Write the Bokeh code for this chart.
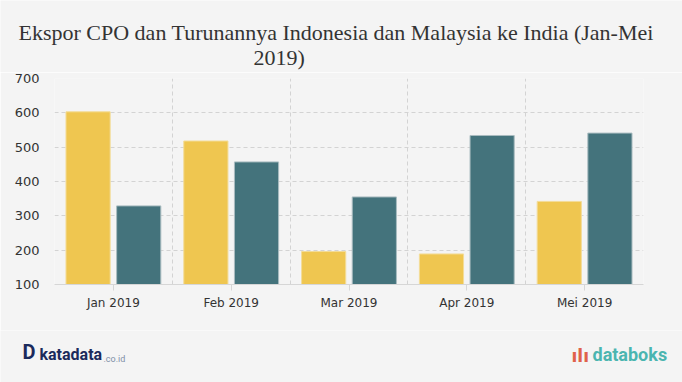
from bokeh.plotting import figure
from bokeh.layouts import column
from bokeh.models import FactorRange, Range1d, FixedTicker, Label, ColumnDataSource
from bokeh.transform import dodge
from bokeh.embed import file_html
from bokeh.resources import INLINE

months = ["Jan 2019", "Feb 2019", "Mar 2019", "Apr 2019", "Mei 2019"]
indonesia = [603, 518, 196, 189, 342]
malaysia = [329, 457, 355, 534, 541]
y_ticks = [100, 200, 300, 400, 500, 600, 700]
title_line1 = "Ekspor CPO dan Turunannya Indonesia dan Malaysia ke India (Jan-Mei"
title_line2 = "2019)"

BG = "#f4f4f4"
YELLOW = "#efc650"
TEAL = "#44737c"
GRID = "#d3d3d3"
W = 682


def blank_fig(h):
    f = figure(width=W, height=h, x_range=Range1d(0, W), y_range=Range1d(h, 0),
               title=None, output_backend="svg", toolbar_location=None,
               x_axis_location=None, y_axis_location=None,
               min_border=0, min_border_left=0, min_border_right=0,
               min_border_top=0, min_border_bottom=0,
               background_fill_color=BG, border_fill_color=BG,
               outline_line_color=None, frame_align=False)
    f.grid.visible = False
    return f


# ---- header with title ----
header = blank_fig(72)
header.add_layout(Label(x=18, y=32, text=title_line1, text_align="left",
                        text_baseline="alphabetic", text_font="Liberation Serif",
                        text_font_size="22px", text_color="#333333"))
header.add_layout(Label(x=253, y=57, text=title_line2, text_align="left",
                        text_baseline="alphabetic", text_font="Liberation Serif",
                        text_font_size="22px", text_color="#333333"))

# ---- main chart ----
src = ColumnDataSource(dict(month=months, indonesia=indonesia, malaysia=malaysia))

p = figure(
    x_range=FactorRange(factors=months, range_padding=0),
    y_range=Range1d(100, 700),
    width=W, height=258, title=None,
    output_backend="svg", toolbar_location=None,
    min_border_left=54, min_border_right=39, min_border_top=6, min_border_bottom=46,
    background_fill_color=BG, border_fill_color=BG, outline_line_color=None,
    frame_align=False,
)

p.vbar(x=dodge("month", -0.215, range=p.x_range), top="indonesia", bottom=100, width=0.375,
       source=src, fill_color=YELLOW, line_color="#f3dc98", line_width=1)
p.vbar(x=dodge("month", 0.215, range=p.x_range), top="malaysia", bottom=100, width=0.375,
       source=src, fill_color=TEAL, line_color="#a9bcc0", line_width=1)

p.xgrid.ticker = FixedTicker(ticks=[0, 1, 2, 3, 4, 5])
p.ygrid.ticker = FixedTicker(ticks=y_ticks)
for g in (p.xgrid, p.ygrid):
    g.grid_line_color = GRID
    g.grid_line_dash = "4 3"
    g.grid_line_width = 1

p.yaxis.ticker = FixedTicker(ticks=y_ticks)
p.yaxis.axis_line_color = None
p.yaxis.major_tick_line_color = None
p.yaxis.minor_tick_line_color = None
p.yaxis.major_tick_out = 0
p.yaxis.major_tick_in = 0
p.yaxis.major_label_standoff = 15
p.yaxis.major_label_text_font = "DejaVu Sans"
p.yaxis.major_label_text_font_size = "13px"
p.yaxis.major_label_text_color = "#333333"

p.xaxis.axis_line_color = "#d6d6d6"
p.xaxis.major_tick_line_color = "#d6d6d6"
p.xaxis.major_tick_out = 6
p.xaxis.major_tick_in = 0
p.xaxis.major_label_standoff = 5
p.xaxis.major_label_text_font = "DejaVu Sans"
p.xaxis.major_label_text_font_size = "12px"
p.xaxis.major_label_text_color = "#333333"

# ---- footer with logos ----
footer = blank_fig(52)
footer.add_layout(Label(x=22, y=33, text="D", text_font="Roboto", text_font_style="bold",
                        text_font_size="20px", text_color="#1b2a5c"))
footer.add_layout(Label(x=39, y=33, text="katadata", text_font="Roboto",
                        text_font_style="bold", text_font_size="16px", text_color="#1b2a5c"))
footer.add_layout(Label(x=103, y=33, text=".co.id", text_font="Roboto",
                        text_font_size="9px", text_color="#8090a8"))
footer.add_layout(Label(x=571, y=35, text="ılı", text_font="DejaVu Sans",
                        text_font_style="bold", text_font_size="17px", text_color="#e0614a"))
footer.add_layout(Label(x=592, y=34, text="databoks", text_font="Roboto",
                        text_font_style="bold", text_font_size="18px", text_color="#4bb5b0"))

layout = column(header, p, footer, spacing=0)
open("out.html", "w").write(file_html(layout, INLINE))
